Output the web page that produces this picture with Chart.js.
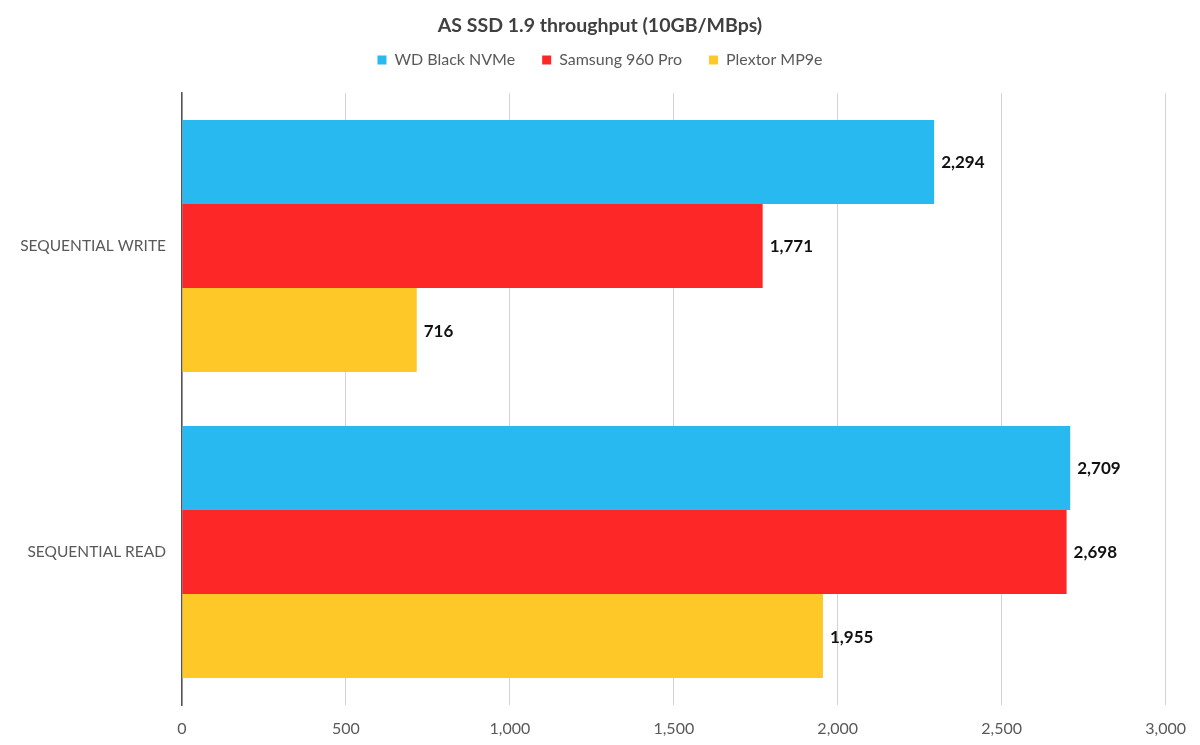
<!DOCTYPE html>
<html>
<head>
  <title>AS SSD 1.9 throughput</title>
  <script src="https://cdn.jsdelivr.net/npm/chart.js"></script>
  <style>
    html, body {
      margin: 0;
      padding: 0;
      background: #fff;
    }
    #wrap {
      width: 1200px;
      height: 745px;
    }
  </style>
</head>
<body>
  <div id="wrap"><canvas id="ssdChart"></canvas></div>

  <script>
    const categories = ['SEQUENTIAL WRITE', 'SEQUENTIAL READ'];
    const seriesNames = ['WD Black NVMe', 'Samsung 960 Pro', 'Plextor MP9e'];
    const wdBlack = [2294, 2709];
    const samsung960 = [1771, 2698];
    const plextor = [716, 1955];
    const xTicks = [0, 500, 1000, 1500, 2000, 2500, 3000];

    const colors = ['#27b9ef', '#fe2727', '#fec928'];
    const fontFamily = 'Lato, "Open Sans", sans-serif';

    // writes the value just past the end of each bar
    const valueLabels = {
      id: 'valueLabels',
      afterInit(chart) {
        // a bit more room between the legend and the plot
        const legend = chart.legend;
        const fit = legend.fit;
        legend.fit = function () {
          fit.call(this);
          this.height += 15;
        };
      },
      afterDatasetsDraw(chart) {
        const ctx = chart.ctx;
        ctx.save();
        ctx.font = 'bold 17px ' + fontFamily;
        ctx.fillStyle = '#111';
        ctx.textAlign = 'left';
        ctx.textBaseline = 'middle';
        chart.data.datasets.forEach((ds, i) => {
          const meta = chart.getDatasetMeta(i);
          meta.data.forEach((bar, j) => {
            ctx.fillText(ds.data[j].toLocaleString('en-US'), bar.x + 7, bar.y + 1);
          });
        });
        ctx.restore();
      }
    };

    const ctx = document.getElementById('ssdChart').getContext('2d');
    const chart = new Chart(ctx, {
      type: 'bar',
      data: {
        labels: categories,
        datasets: [
          { label: seriesNames[0], data: wdBlack, backgroundColor: colors[0] },
          { label: seriesNames[1], data: samsung960, backgroundColor: colors[1] },
          { label: seriesNames[2], data: plextor, backgroundColor: colors[2] }
        ]
      },
      options: {
        indexAxis: 'y',
        responsive: true,
        maintainAspectRatio: false,
        animation: false,
        categoryPercentage: 0.824,
        barPercentage: 1.0,
        layout: {
          padding: 0
        },
        plugins: {
          title: {
            display: true,
            text: 'AS SSD 1.9 throughput (10GB/MBps)',
            color: '#404040',
            font: { family: fontFamily, size: 19.5, weight: 'bold' },
            padding: { top: 14, bottom: -12.4 }
          },
          legend: {
            display: true,
            labels: {
              color: '#595959',
              font: { family: fontFamily, size: 16 },
              boxWidth: 9,
              boxHeight: 9,
              padding: 27
            }
          },
          tooltip: { enabled: false }
        },
        scales: {
          x: {
            min: 0,
            max: 3000,
            afterBuildTicks(scale) {
              scale.ticks = xTicks.map(v => ({ value: v }));
            },
            afterFit(scale) {
              scale.height = 40;
            },
            border: { display: false },
            grid: {
              color: '#d4d4d4',
              lineWidth: 1,
              drawTicks: false
            },
            ticks: {
              color: '#595959',
              font: { family: fontFamily, size: 16 },
              padding: 14,
              callback: v => v.toLocaleString('en-US')
            }
          },
          y: {
            afterFit(scale) {
              scale.width = 182;
            },
            border: { display: true, color: '#555', width: 1.5 },
            grid: { display: false },
            ticks: {
              color: '#595959',
              font: { family: fontFamily, size: 15.5 },
              padding: 8
            }
          },
          // empty right-hand axis, only keeps a margin so title and legend stay centred
          yRight: {
            type: 'linear',
            position: 'right',
            afterFit(scale) {
              scale.width = 28;
            },
            border: { display: false },
            grid: { display: false },
            ticks: { display: false }
          }
        }
      },
      plugins: [valueLabels]
    });
  </script>
</body>
</html>
